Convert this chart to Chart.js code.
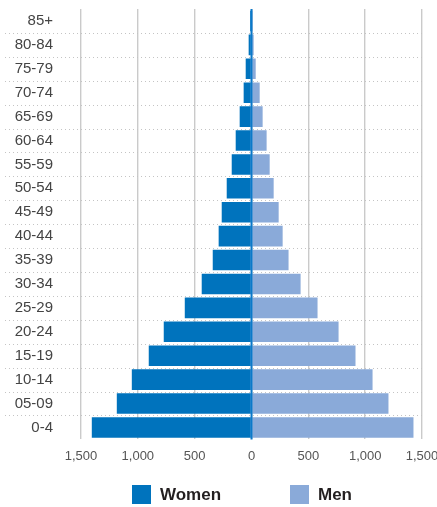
<!DOCTYPE html>
<html>
<head>
<meta charset="utf-8">
<title>Population pyramid</title>
<script src="https://cdn.jsdelivr.net/npm/chart.js@4.4.1/dist/chart.umd.min.js"></script>
<style>
  html, body { margin: 0; padding: 0; background: #fff; }
  #wrap { position: relative; width: 437px; height: 507px; }
  #legend {
    position: absolute; left: 132px; top: 485px; display: flex;
    font: bold 17px "Liberation Sans", Arial, sans-serif; color: #231f20;
  }
  .item { display: flex; align-items: center; width: 158px; height: 19px; }
  .swatch { width: 19px; height: 19px; margin-right: 9px; flex: none; }
</style>
</head>
<body>
<div id="wrap">
  <canvas id="pyramid" width="437" height="507"></canvas>
  <div id="legend"></div>
</div>
<script>
// Age groups, youngest first (drawn bottom-up)
const ageGroups = ['0-4', '05-09', '10-14', '15-19', '20-24', '25-29', '30-34', '35-39', '40-44',
                   '45-49', '50-54', '55-59', '60-64', '65-69', '70-74', '75-79', '80-84', '85+'];
const women = [1405, 1185, 1053, 904, 772, 587, 438, 341, 289, 262, 218, 174, 139, 104, 69, 51, 25, 13];
const men   = [1425, 1205, 1065, 915, 766, 581, 432, 326, 274, 239, 195, 160, 133, 98, 72, 37, 19, 10];
const xTickValues = [-1500, -1000, -500, 0, 500, 1000, 1500];

const WOMEN_COLOR = '#0073bd';
const MEN_COLOR = '#8aaad9';

Chart.defaults.font.family = '"Liberation Sans", Arial, sans-serif';

// Dotted separators between age rows, running out under the labels
const rowSeparators = {
  id: 'rowSeparators',
  beforeDatasetsDraw(chart) {
    const { ctx, chartArea, scales: { y } } = chart;
    ctx.save();
    ctx.strokeStyle = '#c4c4c4';
    ctx.lineWidth = 1;
    ctx.setLineDash([1, 3]);
    for (let i = 1; i < ageGroups.length; i++) {
      const py = Math.round((y.getPixelForValue(i - 1) + y.getPixelForValue(i)) / 2) + 0.5;
      ctx.beginPath();
      ctx.moveTo(5, py);
      ctx.lineTo(chartArea.right, py);
      ctx.stroke();
    }
    ctx.restore();
  }
};

// Blue axis line at zero, over the bars
const zeroLine = {
  id: 'zeroLine',
  afterDatasetsDraw(chart) {
    const { ctx, chartArea, scales: { x } } = chart;
    const px = x.getPixelForValue(0);
    ctx.save();
    ctx.strokeStyle = '#0b79ca';
    ctx.lineWidth = 2;
    ctx.beginPath();
    ctx.moveTo(px, chartArea.top);
    ctx.lineTo(px, chartArea.bottom);
    ctx.stroke();
    ctx.restore();
  }
};

const chart = new Chart(document.getElementById('pyramid'), {
  type: 'bar',
  data: {
    labels: ageGroups,
    datasets: [
      { label: 'Women', data: women.map(v => -v), backgroundColor: WOMEN_COLOR,
        borderWidth: 0, barPercentage: 0.86, categoryPercentage: 1 },
      { label: 'Men', data: men, backgroundColor: MEN_COLOR,
        borderWidth: 0, barPercentage: 0.86, categoryPercentage: 1 }
    ]
  },
  options: {
    indexAxis: 'y',
    responsive: false,
    animation: false,
    layout: { padding: { top: 9, bottom: 34, left: 0, right: 0 } },
    plugins: {
      legend: { display: false },
      tooltip: { enabled: false }
    },
    scales: {
      x: {
        stacked: true,
        min: -1500,
        max: 1500,
        afterBuildTicks: s => { s.ticks = xTickValues.map(v => ({ value: v })); },
        afterFit: s => { s.paddingRight = 15; },
        border: { display: false },
        grid: { color: '#cacaca', lineWidth: 1.4, drawTicks: false },
        ticks: {
          padding: 9,
          color: '#555',
          font: { size: 13 },
          callback: v => Math.abs(v).toLocaleString('en-US')
        }
      },
      y: {
        stacked: true,
        reverse: true,
        afterFit: s => { s.width = 81; s.paddingTop = 0; s.paddingBottom = 0; },
        border: { display: false },
        grid: { display: false, drawTicks: false },
        ticks: { padding: 28, color: '#444', font: { size: 15 } }
      }
    }
  },
  plugins: [rowSeparators, zeroLine]
});

// Legend built from the datasets
const legendEl = document.getElementById('legend');
chart.data.datasets.forEach(ds => {
  const item = document.createElement('div');
  item.className = 'item';
  const sw = document.createElement('span');
  sw.className = 'swatch';
  sw.style.background = ds.backgroundColor;
  const txt = document.createElement('span');
  txt.textContent = ds.label;
  item.appendChild(sw);
  item.appendChild(txt);
  legendEl.appendChild(item);
});
</script>
</body>
</html>
